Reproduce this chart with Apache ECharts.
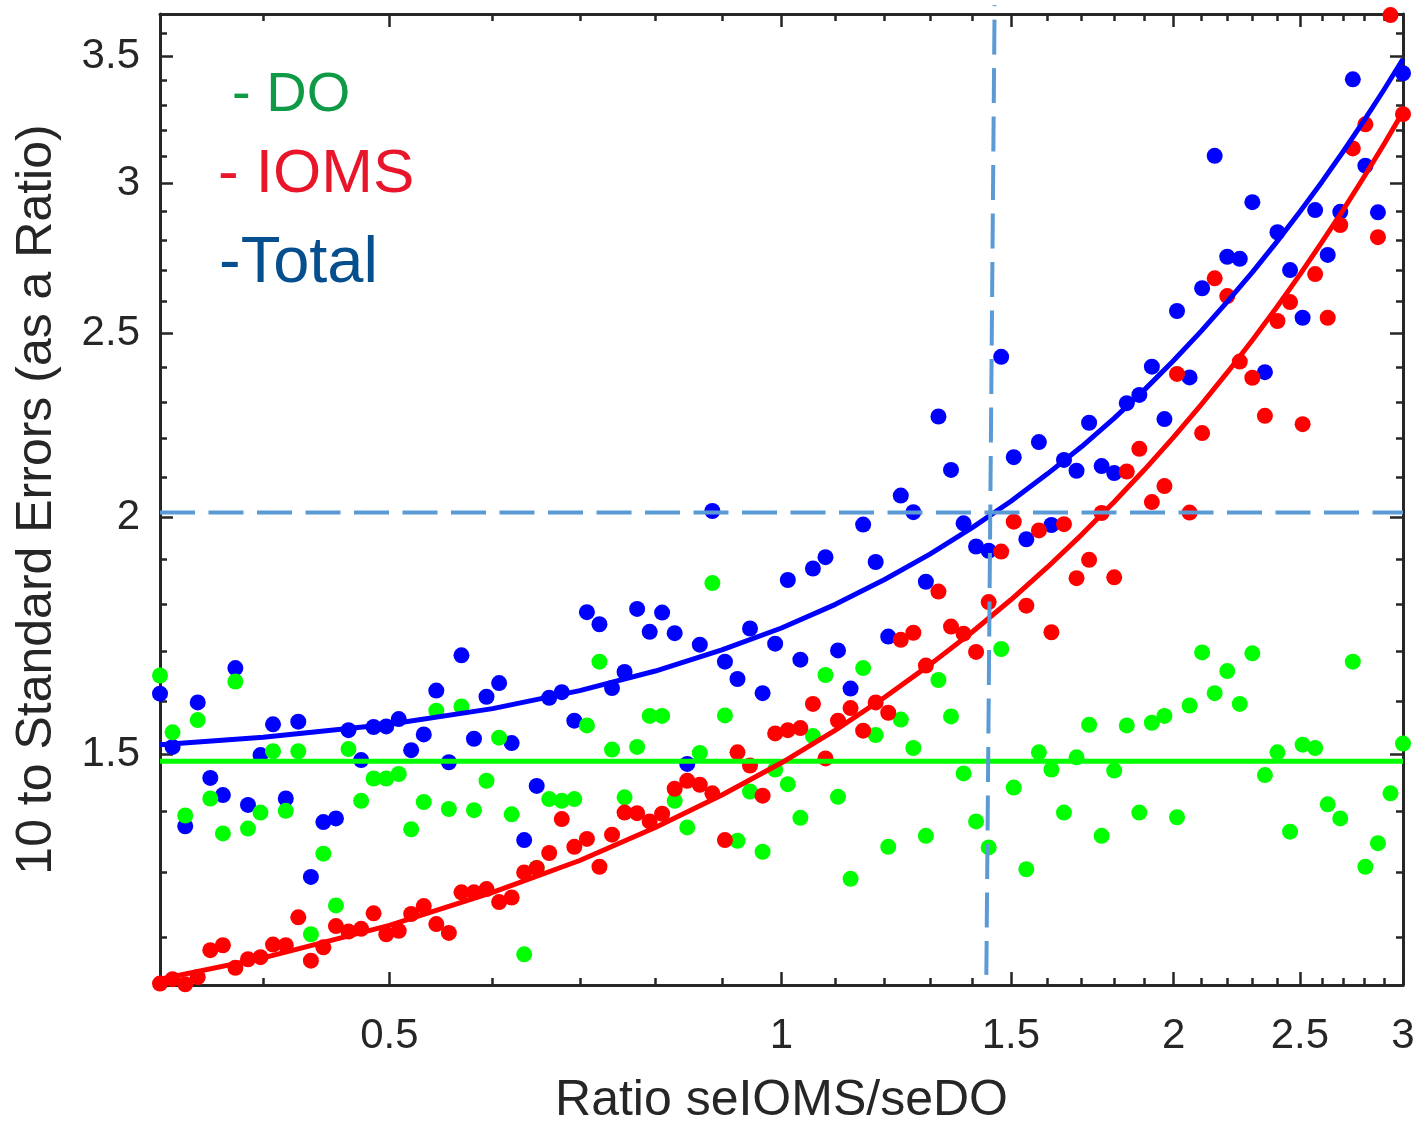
<!DOCTYPE html>
<html><head><meta charset="utf-8">
<script src="https://cdn.jsdelivr.net/npm/echarts@6/dist/echarts.min.js"></script>
<style>html,body{margin:0;padding:0;background:#fff;overflow:hidden}#c{width:1418px;height:1123px}</style>
</head><body><div id="c"></div>
<script>
// ---- data ----
const xVals = [
0.3333,0.3408,0.3485,0.3563,0.3643,0.3725,0.3808,0.3894,0.3981,0.4070,
0.4163,0.4256,0.4352,0.4449,0.4549,0.4651,0.4756,0.4862,0.4972,0.5083,
0.5196,0.5313,0.5432,0.5554,0.5679,0.5806,0.5936,0.6070,0.6206,0.6345,
0.6487,0.6632,0.6781,0.6933,0.7089,0.7248,0.7411,0.7577,0.7747,0.7921,
0.8097,0.8279,0.8465,0.8655,0.8849,0.9048,0.9251,0.9458,0.9671,0.9888,
1.0112,1.0339,1.0571,1.0808,1.1050,1.1298,1.1552,1.1811,1.2076,1.2347,
1.2624,1.2907,1.3197,1.3493,1.3796,1.4105,1.4422,1.4745,1.5076,1.5415,
1.5761,1.6114,1.6476,1.6846,1.7224,1.7610,1.8006,1.8410,1.8823,1.9245,
1.9678,2.0120,2.0572,2.1033,2.1505,2.1988,2.2481,2.2986,2.3502,2.4029,
2.4570,2.5122,2.5685,2.6262,2.6851,2.7454,2.8070,2.8700,2.9344,3.0000];
const doVals = [
1.650,1.540,1.392,1.563,1.421,1.362,1.638,1.370,1.397,1.505,
1.400,1.505,1.205,1.329,1.248,1.509,1.417,1.456,1.456,1.464,
1.369,1.415,1.581,1.403,1.589,1.401,1.452,1.530,1.394,1.176,
1.306,1.420,1.417,1.420,1.553,1.678,1.508,1.423,1.513,1.571,
1.571,1.417,1.372,1.502,1.846,1.572,1.350,1.433,1.332,1.472,
1.446,1.388,1.533,1.651,1.424,1.289,1.665,1.535,1.340,1.564,
1.511,1.358,1.641,1.570,1.465,1.382,1.339,1.704,1.440,1.304,
1.503,1.472,1.397,1.494,1.554,1.358,1.470,1.553,1.397,1.558,
1.571,1.389,1.591,1.697,1.615,1.659,1.594,1.695,1.462,1.503,
1.365,1.517,1.511,1.411,1.387,1.678,1.308,1.346,1.430,1.519];
const totalVals = [
1.614,1.513,1.374,1.597,1.457,1.427,1.665,1.410,1.498,1.555,
1.421,1.560,1.292,1.381,1.387,1.544,1.489,1.550,1.551,1.565,
1.507,1.536,1.620,1.485,1.691,1.528,1.608,1.635,1.520,1.351,
1.443,1.606,1.617,1.562,1.782,1.756,1.625,1.657,1.789,1.740,
1.781,1.737,1.482,1.713,2.015,1.678,1.643,1.747,1.615,1.715,
1.853,1.682,1.879,1.905,1.701,1.624,1.982,1.894,1.730,2.053,
2.012,1.849,2.260,2.118,1.985,1.930,1.920,2.430,2.151,1.947,
2.191,1.981,2.144,2.116,2.243,2.128,2.110,2.297,2.320,2.401,
2.253,2.569,2.370,2.641,3.102,2.744,2.737,2.932,2.385,2.827,
2.700,2.548,2.904,2.750,2.898,3.404,3.065,2.896,3.800,3.429];
const iomsVals = [
1.135,1.141,1.134,1.144,1.182,1.189,1.157,1.169,1.172,1.190,
1.189,1.230,1.167,1.186,1.217,1.209,1.213,1.236,1.205,1.210,
1.235,1.247,1.220,1.207,1.268,1.268,1.273,1.253,1.260,1.299,
1.306,1.330,1.386,1.340,1.353,1.308,1.360,1.397,1.396,1.382,
1.395,1.438,1.452,1.445,1.430,1.351,1.503,1.479,1.426,1.538,
1.544,1.548,1.594,1.492,1.562,1.586,1.543,1.597,1.577,1.723,
1.738,1.670,1.827,1.751,1.736,1.698,1.804,1.918,1.989,1.796,
1.968,1.739,1.983,1.857,1.899,2.010,1.859,2.114,2.173,2.037,
2.077,2.380,2.011,2.215,2.673,2.616,2.416,2.369,2.262,2.538,
2.597,2.239,2.687,2.548,2.852,3.130,3.223,2.810,3.680,3.263];
const curveX     = [0.3333,0.4,0.5,0.6,0.7,0.8,0.9,1.0,1.1,1.2,1.3,1.4,1.5,1.6,1.7,1.8,1.9,2.0,2.1,2.2,2.3,2.4,2.5,2.6,2.7,2.8,2.9,3.0];
const totalCurve = [1.517,1.531,1.555,1.585,1.620,1.659,1.702,1.748,1.799,1.854,1.912,1.974,2.039,2.108,2.179,2.255,2.335,2.419,2.507,2.599,2.694,2.794,2.898,3.006,3.119,3.237,3.360,3.489];
const iomsCurve  = [1.141,1.171,1.218,1.268,1.318,1.372,1.427,1.484,1.544,1.607,1.672,1.739,1.809,1.882,1.958,2.037,2.119,2.204,2.293,2.385,2.481,2.581,2.685,2.794,2.906,3.023,3.145,3.272];
const doLineX = [0.3333, 3];
const doLineY = [1.487, 1.487];
const refHX = [0.3333, 3];
const refHY = [2.011, 2.011];
const refVX = [1.4574, 1.4363];
const refVY = [3.725, 1.147];
const xMajor = [0.5, 1, 1.5, 2, 2.5, 3];
const xMinor = [0.4,0.6,0.7,0.8,0.9,1.1,1.2,1.3,1.4,1.6,1.7,1.8,1.9,2.1,2.2,2.3,2.4,2.6,2.7,2.8,2.9];
const yMajor = [1.5, 2, 2.5, 3, 3.5];
const yMinor = [1.2,1.3,1.4,1.6,1.7,1.8,1.9,2.1,2.2,2.3,2.4,2.6,2.7,2.8,2.9,3.1,3.2,3.3,3.4,3.6];
const xName = 'Ratio seIOMS/seDO';
const yName = '10 to Standard Errors (as a Ratio)';

// ---- chart ----
const FONT = '"Liberation Sans", Arial, Helvetica, sans-serif';
const AX = '#262626';
const XMIN = 0.3333, XMAX = 3, YMIN = 1.133, YMAX = 3.685;
const zip = (a, b) => a.map((v, i) => [v, b[i]]);
const fmt = v => String(+(+v).toFixed(2));

function mkAxis(pos, ticks, len, isMain, showLine, min, max, extra) {
  return Object.assign({
    type: 'log', logBase: 10, position: pos, min: min, max: max,
    axisLine: { show: showLine, onZero: false, lineStyle: { color: AX, width: 3 } },
    axisTick: { show: true, inside: true, length: len, customValues: ticks,
                lineStyle: { color: AX, width: 2.5 } },
    axisLabel: { show: isMain, customValues: ticks, color: AX, fontSize: 42,
                 fontFamily: FONT, formatter: fmt },
    splitLine: { show: false }, minorTick: { show: false }, axisPointer: { show: false }
  }, extra || {});
}

const el = document.getElementById('c');
const chart = echarts.init(el, null, { renderer: 'canvas' });
chart.setOption({
  animation: false,
  backgroundColor: '#fff',
  grid: { left: 160, right: 15, top: 14, bottom: 138, containLabel: false, outerBoundsMode: 'none' },
  xAxis: [
    mkAxis('bottom', xMajor, 13, true, true, XMIN, XMAX, {
      name: xName, nameLocation: 'middle', nameGap: 91,
      nameTextStyle: { color: AX, fontSize: 50, fontFamily: FONT },
      axisLabel: { show: true, customValues: xMajor, color: AX, fontSize: 42, margin: 30,
                   fontFamily: FONT, formatter: fmt } }),
    mkAxis('bottom', xMinor, 7, false, false, XMIN, XMAX),
    mkAxis('top', xMajor, 13, false, true, XMIN, XMAX),
    mkAxis('top', xMinor, 7, false, false, XMIN, XMAX)
  ],
  yAxis: [
    mkAxis('left', yMajor, 13, true, true, YMIN, YMAX, {
      name: yName, nameLocation: 'middle', nameGap: 98,
      nameTextStyle: { color: AX, fontSize: 50, fontFamily: FONT },
      axisLabel: { show: true, customValues: yMajor, color: AX, fontSize: 42, margin: 20,
                   padding: [6, 0, 0, 0], fontFamily: FONT, formatter: fmt } }),
    mkAxis('left', yMinor, 7, false, false, YMIN, YMAX),
    mkAxis('right', yMajor, 13, false, true, YMIN, YMAX),
    mkAxis('right', yMinor, 7, false, false, YMIN, YMAX)
  ],
  series: [
    { type: 'scatter', name: 'Total', data: zip(xVals, totalVals), symbolSize: 16,
      itemStyle: { color: '#0000ff', opacity: 1 }, z: 2 },
    { type: 'scatter', name: 'DO', data: zip(xVals, doVals), symbolSize: 16,
      itemStyle: { color: '#00ff00', opacity: 1 }, z: 2 },
    { type: 'scatter', name: 'IOMS', data: zip(xVals, iomsVals), symbolSize: 16,
      itemStyle: { color: '#ff0000', opacity: 1 }, z: 2 },
    { type: 'line', data: zip(doLineX, doLineY), symbol: 'none',
      lineStyle: { color: '#00ff00', width: 5 }, z: 3 },
    { type: 'line', data: zip(curveX, iomsCurve), symbol: 'none', smooth: false,
      lineStyle: { color: '#ff0000', width: 5, join: 'round' }, z: 3 },
    { type: 'line', data: zip(curveX, totalCurve), symbol: 'none', smooth: false,
      lineStyle: { color: '#0000ff', width: 5, join: 'round' }, z: 3 },
    { type: 'line', data: zip(refHX, refHY), symbol: 'none',
      lineStyle: { color: '#5b9bd5', width: 4, type: [35, 13.5] }, z: 4 },
    { type: 'line', data: zip(refVX, refVY), symbol: 'none', clip: false,
      lineStyle: { color: '#5b9bd5', width: 4, type: [35, 13.5], dashOffset: 34 }, z: 4 }
  ],
  graphic: [
    { type: 'text', x: 232, y: 96, z: 10,
      style: { text: '- DO', fontSize: 56, fontFamily: FONT, fill: '#0f9a46', align: 'left', verticalAlign: 'middle' } },
    { type: 'text', x: 218, y: 175, z: 10,
      style: { text: '- IOMS', fontSize: 62, fontFamily: FONT, fill: '#e8152b', align: 'left', verticalAlign: 'middle' } },
    { type: 'text', x: 219, y: 264, z: 10,
      style: { text: '-Total', fontSize: 65, fontFamily: FONT, fill: '#064f8e', align: 'left', verticalAlign: 'middle' } }
  ]
});
</script></body></html>
